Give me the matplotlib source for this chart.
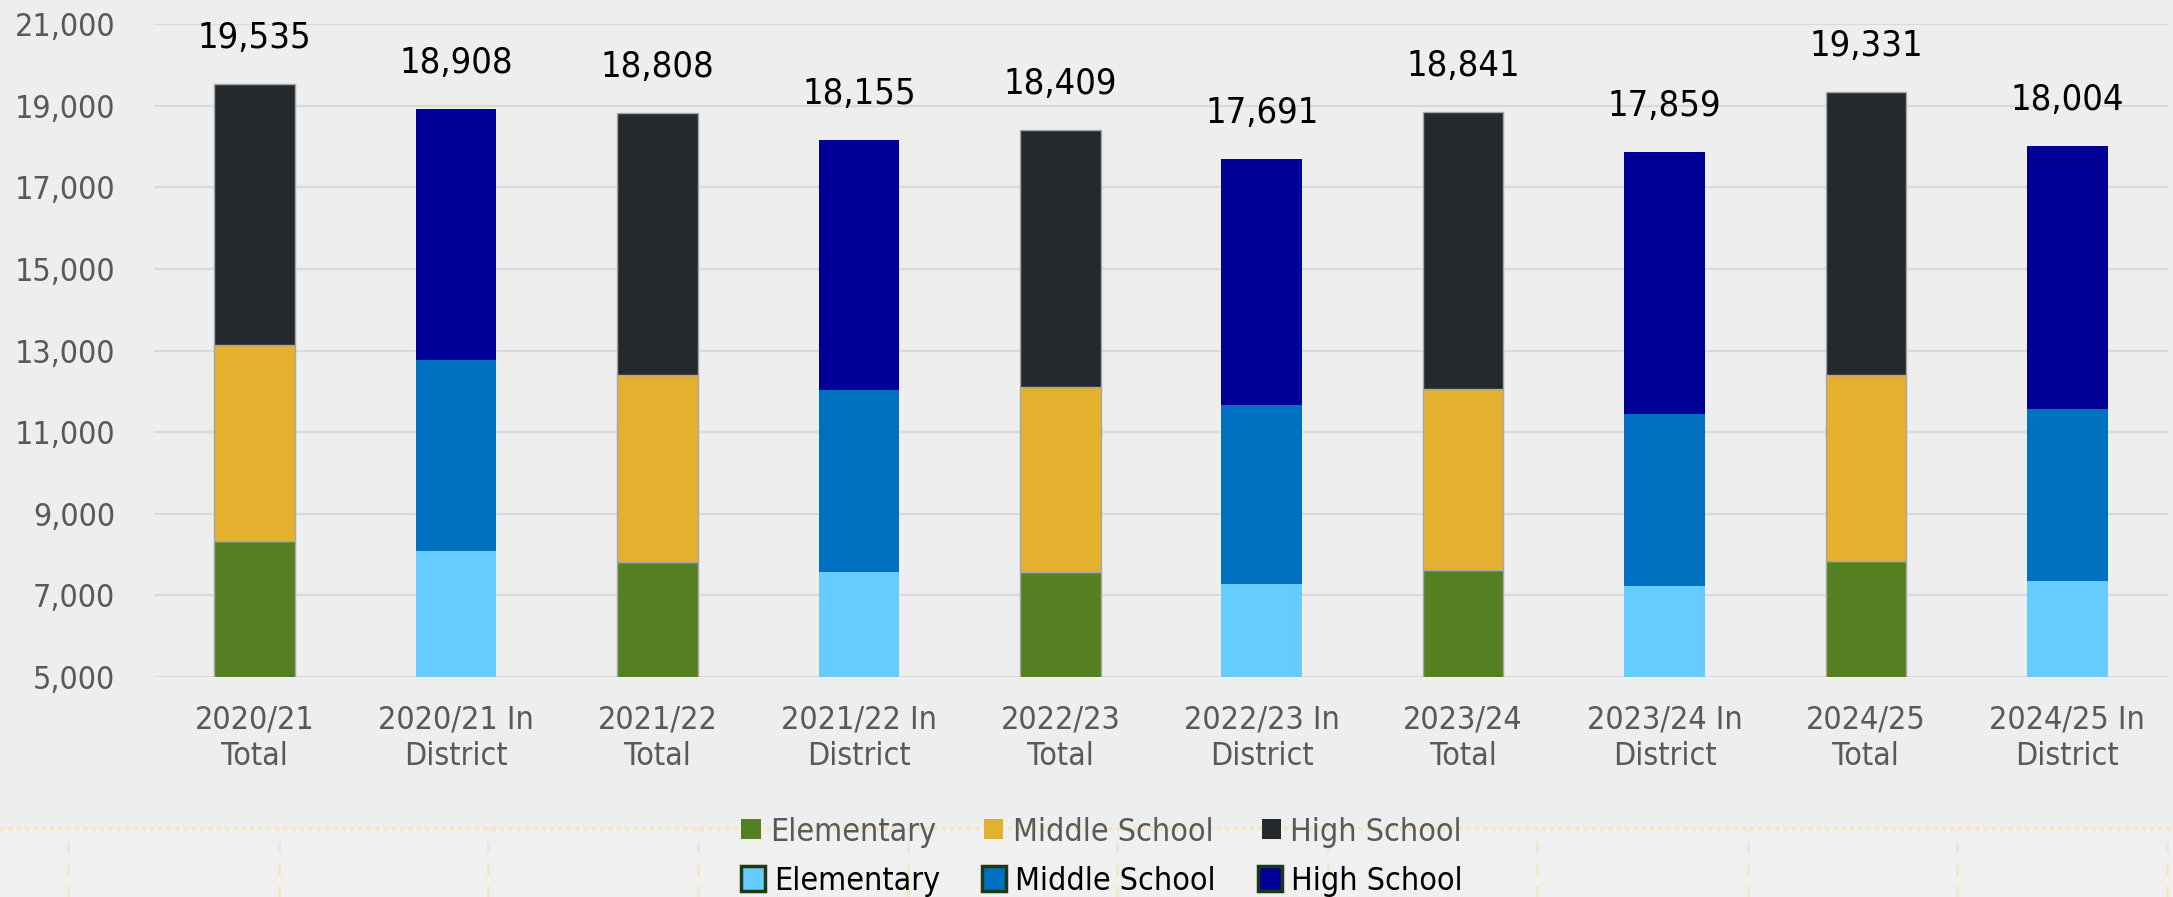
import matplotlib
matplotlib.use("Agg")
import matplotlib.pyplot as plt
import numpy as np
from matplotlib.patches import Patch, Rectangle
from matplotlib.lines import Line2D

plt.rcParams['font.family'] = ['DejaVu Sans']
plt.rcParams['font.stretch'] = 'condensed'

# categories along the x axis
categories = ["2020/21\nTotal", "2020/21 In\nDistrict", "2021/22\nTotal", "2021/22 In\nDistrict",
              "2022/23\nTotal", "2022/23 In\nDistrict", "2023/24\nTotal", "2023/24 In\nDistrict",
              "2024/25\nTotal", "2024/25 In\nDistrict"]

# stacked segment sizes
elementary = [8328, 8082, 7820, 7566, 7566, 7270, 7623, 7221, 7852, 7344]
middle = [4811, 4680, 4590, 4459, 4549, 4386, 4443, 4213, 4558, 4213]
totals = [19535, 18908, 18808, 18155, 18409, 17691, 18841, 17859, 19331, 18004]
high = [t - e - m for t, e, m in zip(totals, elementary, middle)]

yticks = [5000, 7000, 9000, 11000, 13000, 15000, 17000, 19000, 21000]

# colours: even index = total, odd index = in district
total_cols = ['#548022', '#e3b12e', '#24292d']
dist_cols = ['#66ccff', '#0070c0', '#000099']

bg = '#eeeeee'
fig = plt.figure(figsize=(21.73, 8.97), dpi=100, facecolor=bg)
ax = fig.add_axes([154 / 2173, 1 - 677 / 897, (2168 - 154) / 2173, (677 - 24) / 897])
ax.set_facecolor(bg)

x = np.arange(len(categories))
is_total = np.array([i % 2 == 0 for i in range(len(categories))])
bottoms = np.zeros(len(categories))
for k, seg in enumerate([elementary, middle, high]):
    seg = np.array(seg)
    cols = [total_cols[k] if t else dist_cols[k] for t in is_total]
    edges = ['#a6a6a6' if t else c for t, c in zip(is_total, cols)]
    ax.bar(x, seg, 0.4, bottom=bottoms, color=cols, edgecolor=edges,
           linewidth=[1.0 if t else 0 for t in is_total], zorder=3)
    bottoms += seg

for xi, t in zip(x, totals):
    ax.annotate(f"{t:,}", (xi, t), xytext=(0, 21), textcoords='offset points',
                ha='center', va='bottom', fontsize=26, color='#000000')

ax.set_xlim(-0.5, len(categories) - 0.5)
ax.set_ylim(5000, 21000)
ax.set_yticks(yticks)
ax.set_yticklabels([f"{v:,}" for v in yticks])
ax.set_xticks(x)
ax.set_xticklabels(categories)
ax.tick_params(axis='y', length=0, pad=28, labelsize=23, labelcolor='#595959')
ax.tick_params(axis='x', length=0, pad=20, labelsize=23, labelcolor='#595959')
ax.grid(axis='y', color='#dadada', linewidth=1.6, zorder=0)
for s in ax.spines.values():
    s.set_visible(False)

# sheet cells showing below the chart
yline = 1 - 829 / 897
fig.add_artist(Rectangle((0, 0), 1, yline, transform=fig.transFigure, color='#f0f0f0', zorder=0))
fig.add_artist(Line2D([0, 1], [yline, yline], transform=fig.transFigure, color='#f3e6c4',
                      linewidth=3, linestyle=(0, (1, 1)), zorder=1))
for px in [68, 279, 488, 698, 908, 1117, 1328, 1537, 1748, 1957, 2167]:
    fig.add_artist(Line2D([px / 2173, px / 2173], [0, yline], transform=fig.transFigure,
                          color='#f3e6c4', linewidth=2, linestyle=(0, (4, 4)), zorder=1))

labels = ['Elementary', 'Middle School', 'High School']
h1 = [Patch(facecolor=c, edgecolor='none') for c in total_cols]
h2 = [Patch(facecolor=c, edgecolor='#1e3a14', linewidth=2.5) for c in dist_cols]
common = dict(loc='center', ncol=3, frameon=False, fontsize=23, handlelength=0.6,
              handleheight=0.6, handletextpad=0.3, columnspacing=1.5)
leg1 = fig.legend(h1, labels, bbox_to_anchor=(0.507, 1 - 832 / 897), labelcolor='#595959', **common)
leg2 = fig.legend(h2, labels, bbox_to_anchor=(0.507, 1 - 881 / 897), labelcolor='#000000',
                  **dict(common, handlelength=0.75, handleheight=0.8, columnspacing=1.3))
leg1.set_zorder(5)
leg2.set_zorder(5)

fig.savefig("out.png", dpi=100, facecolor=bg)
